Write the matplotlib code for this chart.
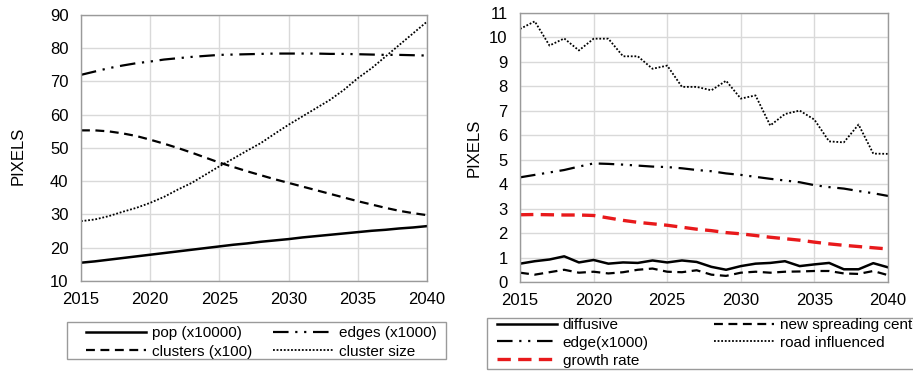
import matplotlib
matplotlib.use('Agg')
import matplotlib.pyplot as plt
from matplotlib.patches import Rectangle

plt.rcParams['font.family'] = ['Liberation Sans', 'DejaVu Sans']

years = list(range(2015, 2041))

# left panel
pop = [15.5, 15.9, 16.4, 16.9, 17.4, 17.9, 18.4, 18.9, 19.4, 19.9, 20.4, 20.9, 21.3,
       21.8, 22.2, 22.6, 23.1, 23.5, 23.9, 24.3, 24.7, 25.1, 25.4, 25.8, 26.1, 26.5]
edges = [72.0, 73.0, 74.0, 74.8, 75.5, 76.0, 76.6, 77.0, 77.4, 77.7, 78.0, 78.1, 78.2,
         78.3, 78.4, 78.4, 78.4, 78.4, 78.3, 78.3, 78.2, 78.1, 78.0, 78.0, 77.9, 77.8]
clusters = [55.3, 55.3, 55.0, 54.4, 53.6, 52.5, 51.3, 50.0, 48.6, 47.1, 45.6, 44.3, 43.0,
            41.8, 40.6, 39.5, 38.4, 37.3, 36.2, 35.1, 34.0, 33.0, 32.0, 31.1, 30.4, 29.8]
cluster_size = [28.0, 28.5, 29.5, 30.8, 32.0, 33.5, 35.3, 37.5, 39.5, 42.0, 44.5, 46.8, 49.2,
                51.5, 54.3, 57.0, 59.5, 62.0, 64.5, 67.5, 71.0, 74.0, 77.5, 81.0, 84.5, 88.0]

# right panel
diffusive = [0.75, 0.85, 0.92, 1.05, 0.80, 0.90, 0.75, 0.80, 0.78, 0.88, 0.80, 0.88, 0.82,
             0.62, 0.50, 0.65, 0.75, 0.78, 0.85, 0.65, 0.72, 0.78, 0.52, 0.52, 0.77, 0.60]
new_centers = [0.38, 0.30, 0.40, 0.50, 0.38, 0.42, 0.35, 0.40, 0.50, 0.55, 0.42, 0.40, 0.48,
               0.30, 0.25, 0.38, 0.42, 0.38, 0.42, 0.43, 0.45, 0.45, 0.35, 0.33, 0.45, 0.28]
edge_k = [4.28, 4.38, 4.48, 4.58, 4.72, 4.85, 4.83, 4.80, 4.76, 4.72, 4.70, 4.65, 4.58,
          4.53, 4.44, 4.38, 4.30, 4.22, 4.15, 4.08, 3.96, 3.88, 3.82, 3.72, 3.63, 3.52]
road = [10.35, 10.66, 9.67, 9.96, 9.47, 9.95, 9.95, 9.23, 9.23, 8.72, 8.85, 7.98, 7.98,
        7.84, 8.23, 7.50, 7.63, 6.40, 6.87, 7.01, 6.64, 5.75, 5.71, 6.44, 5.25, 5.24]
growth = [2.75, 2.76, 2.75, 2.74, 2.74, 2.72, 2.62, 2.52, 2.44, 2.38, 2.32, 2.24, 2.16,
          2.10, 2.02, 1.97, 1.90, 1.83, 1.77, 1.71, 1.63, 1.56, 1.50, 1.45, 1.40, 1.35]

DASHDOTDOT = (0, (7, 3, 1, 3, 1, 3))
DASHED = (0, (4, 2.5))
DOTTED = (0, (1, 1))

W, H = 913, 371
fig = plt.figure(figsize=(W / 100, H / 100), dpi=100)
ax1 = fig.add_axes([0.0887, 0.2426, 0.379, 0.717])
ax2 = fig.add_axes([0.5696, 0.2399, 0.403, 0.725])


def style_axes(ax, ylim, yticks):
    ax.set_xlim(2015, 2040)
    ax.set_xticks(range(2015, 2041, 5))
    ax.set_ylim(*ylim)
    ax.set_yticks(yticks)
    ax.grid(True, color='#d9d9d9', linewidth=1)
    ax.set_axisbelow(True)
    for s in ax.spines.values():
        s.set_color('#9a9a9a')
        s.set_linewidth(1)
    ax.tick_params(axis='both', length=0, labelsize=12)
    ax.tick_params(axis='y', pad=9)
    ax.tick_params(axis='x', pad=8)
    ax.set_ylabel('PIXELS', fontsize=12)


l1, = ax1.plot(years, pop, color='black', lw=1.8, label='pop (x10000)')
l2, = ax1.plot(years, clusters, color='black', lw=1.6, linestyle=DASHED, label='clusters (x100)')
l3, = ax1.plot(years, edges, color='black', lw=1.6, linestyle=DASHDOTDOT, label='edges (x1000)')
l4, = ax1.plot(years, cluster_size, color='black', lw=1.3, linestyle=DOTTED, label='cluster size')
style_axes(ax1, (10, 90), range(10, 91, 10))
ax1.yaxis.set_label_coords(-0.16, 0.47)

r1, = ax2.plot(years, diffusive, color='black', lw=1.8, label='diffusive')
r2, = ax2.plot(years, edge_k, color='black', lw=1.6, linestyle=DASHDOTDOT, label='edge(x1000)')
r3, = ax2.plot(years, growth, color='#e8191b', lw=2.4, linestyle=(0, (4, 2.2)), label='growth rate')
r4, = ax2.plot(years, new_centers, color='black', lw=1.6, linestyle=DASHED, label='new spreading centers')
r5, = ax2.plot(years, road, color='black', lw=1.3, linestyle=DOTTED, label='road influenced')
style_axes(ax2, (0, 11), range(0, 12))
ax2.yaxis.set_label_coords(-0.104, 0.5)

# legends without own frame; boxes drawn separately to get the wide left padding
leg_kw = dict(loc='upper left', fontsize=11, frameon=False,
              handlelength=3.9, handletextpad=0.4, borderaxespad=0, borderpad=0)
h1 = [l1, l2, l3, l4]
fig.legend(h1, [h.get_label() for h in h1], ncol=2, labelspacing=0.3,
           bbox_to_anchor=(86 / W, 1 - 326 / H), columnspacing=1.4, **leg_kw)
h2 = [r1, r2, r3, r4, r5]
fig.legend(h2, [h.get_label() for h in h2], ncol=2, labelspacing=0.25,
           bbox_to_anchor=(497 / W, 1 - 318 / H), columnspacing=4.3, **leg_kw)

fig.patches.append(Rectangle((67 / W, 1 - 359 / H), 379 / W, 37 / H, transform=fig.transFigure,
                             fill=False, edgecolor='#9a9a9a', linewidth=1))
fig.patches.append(Rectangle((487 / W, 1 - 369 / H), 440 / W, 51 / H, transform=fig.transFigure,
                             fill=False, edgecolor='#9a9a9a', linewidth=1))

fig.savefig('out.png', dpi=100)
